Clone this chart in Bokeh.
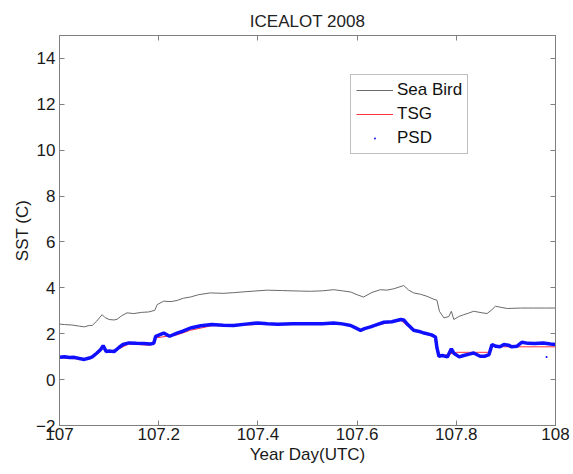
from bokeh.plotting import figure
from bokeh.models import (FixedTicker, CustomJSTickFormatter, LinearAxis, Legend,
                          LegendItem, Range1d)
from bokeh.embed import file_html
from bokeh.resources import INLINE

# ---- data ----
seabird_t = [107.000, 107.010, 107.025, 107.040, 107.050, 107.060, 107.066, 107.075,
             107.086, 107.092, 107.100, 107.110, 107.116, 107.125, 107.136, 107.150,
             107.165, 107.180, 107.192, 107.197, 107.210, 107.225, 107.237, 107.250,
             107.264, 107.280, 107.304, 107.330, 107.351, 107.380, 107.419, 107.450,
             107.486, 107.506, 107.530, 107.553, 107.570, 107.587, 107.600, 107.613,
             107.630, 107.647, 107.660, 107.674, 107.694, 107.704, 107.714, 107.728,
             107.741, 107.755, 107.761, 107.766, 107.775, 107.785, 107.790, 107.795,
             107.805, 107.815, 107.825, 107.835, 107.850, 107.862, 107.872, 107.879,
             107.890, 107.903, 107.930, 107.956, 107.980, 108.000]
seabird_v = [2.42, 2.40, 2.38, 2.33, 2.30, 2.36, 2.36, 2.55,
             2.83, 2.70, 2.62, 2.60, 2.63, 2.78, 2.91, 2.88,
             2.93, 2.95, 3.02, 3.27, 3.42, 3.40, 3.45, 3.55,
             3.60, 3.70, 3.78, 3.76, 3.79, 3.84, 3.90, 3.88,
             3.86, 3.85, 3.87, 3.92, 3.87, 3.82, 3.70, 3.60,
             3.80, 3.92, 3.90, 3.96, 4.10, 3.90, 3.78, 3.72,
             3.63, 3.50, 3.46, 2.98, 2.69, 2.75, 2.98, 2.62,
             2.75, 2.83, 2.90, 2.98, 2.92, 2.88, 3.05, 3.20,
             3.15, 3.10, 3.12, 3.12, 3.12, 3.12]

tsg_t = [107.000, 107.040, 107.050, 107.066, 107.083, 107.088, 107.094, 107.120,
         107.140, 107.183, 107.194, 107.237, 107.264, 107.307, 107.351, 107.419,
         107.486, 107.553, 107.587, 107.607, 107.640, 107.688, 107.714, 107.758,
         107.762, 107.766, 107.775, 107.800, 107.865, 107.872, 107.900, 108.000]
tsg_v = [0.95, 0.90, 0.86, 0.95, 1.25, 1.40, 1.20, 1.35,
         1.55, 1.50, 1.82, 1.95, 2.15, 2.35, 2.35, 2.43,
         2.42, 2.45, 2.35, 2.15, 2.38, 2.58, 2.15, 1.85,
         1.30, 1.00, 1.05, 1.19, 1.19, 1.45, 1.43, 1.43]

psd_t = [107.000, 107.010, 107.020, 107.030, 107.040, 107.050, 107.060, 107.066,
         107.075, 107.083, 107.088, 107.094, 107.100, 107.110, 107.120, 107.128,
         107.140, 107.155, 107.170, 107.183, 107.190, 107.194, 107.210, 107.222,
         107.237, 107.250, 107.264, 107.285, 107.307, 107.330, 107.351, 107.380,
         107.400, 107.419, 107.440, 107.470, 107.486, 107.506, 107.530, 107.553,
         107.570, 107.587, 107.600, 107.607, 107.615, 107.627, 107.640, 107.654,
         107.670, 107.688, 107.694, 107.700, 107.714, 107.725, 107.735, 107.750,
         107.758, 107.761, 107.765, 107.772, 107.782, 107.790, 107.795, 107.806,
         107.815, 107.828, 107.835, 107.848, 107.858, 107.866, 107.872, 107.880,
         107.888, 107.896, 107.905, 107.912, 107.922, 107.932, 107.945, 107.958,
         107.975, 107.990, 108.000]
psd_v = [0.98, 1.00, 0.96, 0.97, 0.92, 0.88, 0.94, 0.99,
         1.15, 1.31, 1.48, 1.23, 1.25, 1.22, 1.40, 1.53,
         1.60, 1.58, 1.57, 1.55, 1.58, 1.89, 2.03, 1.89,
         2.03, 2.12, 2.25, 2.35, 2.40, 2.37, 2.36, 2.43,
         2.47, 2.44, 2.41, 2.43, 2.43, 2.44, 2.44, 2.47,
         2.43, 2.36, 2.22, 2.15, 2.22, 2.30, 2.40, 2.50,
         2.52, 2.62, 2.60, 2.45, 2.15, 2.10, 2.03, 1.95,
         1.86, 1.38, 1.02, 1.05, 0.99, 1.34, 1.15, 0.99,
         1.05, 1.12, 1.16, 1.02, 1.02, 1.09, 1.53, 1.45,
         1.43, 1.53, 1.50, 1.43, 1.45, 1.63, 1.58, 1.57,
         1.60, 1.55, 1.53]
psd_outlier_t = [107.982]
psd_outlier_v = [0.99]

x_ticks = [107, 107.2, 107.4, 107.6, 107.8, 108]
y_ticks = [-2, 0, 2, 4, 6, 8, 10, 12, 14]

FONT = "Liberation Sans"
AXC = "#808080"

p = figure(width=570, height=470, output_backend="svg", toolbar_location=None,
           x_range=Range1d(107, 108), y_range=Range1d(-2, 15),
           title="ICEALOT 2008",
           min_border_left=59, min_border_right=15, min_border_top=35,
           min_border_bottom=45)
p.background_fill_color = "white"
p.border_fill_color = "white"
p.grid.visible = False
p.outline_line_color = AXC
p.outline_line_width = 1

p.title.align = "center"
p.title.text_font = FONT
p.title.text_font_size = "17px"
p.title.text_font_style = "normal"
p.title.text_color = "#222222"

fmt = CustomJSTickFormatter(code="return String(Number(tick.toFixed(1)));")
blank = CustomJSTickFormatter(code="return '';")

for ax in [p.xaxis[0], p.yaxis[0]]:
    ax.axis_line_color = AXC
    ax.major_tick_line_color = AXC
    ax.major_tick_in = 5
    ax.major_tick_out = 0
    ax.minor_tick_line_color = None
    ax.major_label_text_font = FONT
    ax.major_label_text_font_size = "17px"
    ax.major_label_text_color = "#1a1a1a"
    ax.axis_label_text_font = FONT
    ax.axis_label_text_font_size = "17px"
    ax.axis_label_text_font_style = "normal"
    ax.axis_label_text_color = "#1a1a1a"

p.xaxis[0].ticker = FixedTicker(ticks=x_ticks)
p.xaxis[0].formatter = fmt
p.xaxis[0].axis_label = "Year Day(UTC)"
p.xaxis[0].major_label_standoff = 2
p.xaxis[0].axis_label_standoff = 2

p.yaxis[0].ticker = FixedTicker(ticks=y_ticks)
p.yaxis[0].axis_label = "SST (C)"
p.yaxis[0].major_label_standoff = 4
p.yaxis[0].axis_label_standoff = 1

right = LinearAxis(ticker=FixedTicker(ticks=y_ticks), formatter=blank,
                   axis_line_color=AXC, major_tick_line_color=AXC, major_tick_in=5,
                   major_tick_out=0, minor_tick_line_color=None,
                   major_label_standoff=0)
top = LinearAxis(ticker=FixedTicker(ticks=x_ticks), formatter=blank,
                 axis_line_color=AXC, major_tick_line_color=AXC, major_tick_in=5,
                 major_tick_out=0, minor_tick_line_color=None,
                 major_label_standoff=0)
p.add_layout(right, "right")
p.add_layout(top, "above")

r_sb = p.line(seabird_t, seabird_v, line_color="#6a6a6a", line_width=1)
r_tsg = p.line(tsg_t, tsg_v, line_color="#ff3040", line_width=1)
p.line(psd_t, psd_v, line_color="#1010ff", line_width=3.5)
r_psd = p.scatter(psd_t, psd_v, size=3, color="#0000ff", marker="dot")
p.scatter(psd_outlier_t, psd_outlier_v, size=8, color="#0000ff", marker="dot")

legend = Legend(items=[LegendItem(label="Sea Bird", renderers=[r_sb]),
                       LegendItem(label="TSG", renderers=[r_tsg]),
                       LegendItem(label="PSD", renderers=[r_psd])],
                location=(291, 271), orientation="vertical",
                label_text_font=FONT, label_text_font_size="17px",
                label_text_color="#111111",
                glyph_width=37, glyph_height=18, label_height=18,
                label_standoff=4, spacing=4, padding=5, margin=0,
                border_line_color=AXC, border_line_width=1,
                background_fill_color="white")
p.add_layout(legend)

open("out.html", "w").write(file_html(p, INLINE))
